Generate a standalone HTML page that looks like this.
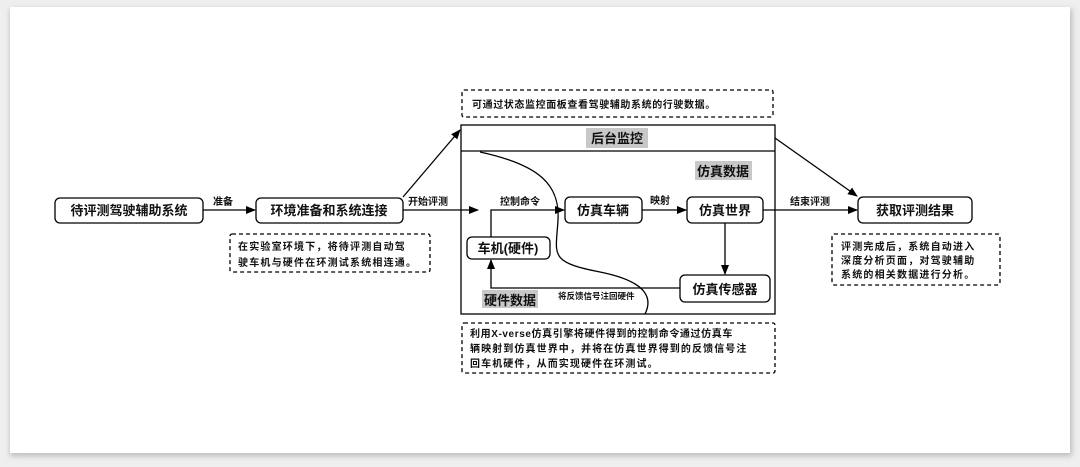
<!DOCTYPE html>
<html><head><meta charset="utf-8"><style>
html,body{margin:0;padding:0;width:1080px;height:467px;background:#efefef;overflow:hidden}
svg{position:absolute;left:0;top:0}
text{font-family:"Liberation Sans","Noto Sans CJK SC",sans-serif;font-weight:bold;fill:#111}
</style></head><body>
<svg width="1080" height="467" viewBox="0 0 1080 467">
<defs>
<filter id="sh" x="-5%" y="-5%" width="110%" height="115%"><feGaussianBlur stdDeviation="3"/></filter>
<marker id="a" markerWidth="10" markerHeight="8" refX="9" refY="4" orient="auto" markerUnits="userSpaceOnUse"><path d="M0,0L10,4L0,8z" fill="#000"/></marker>
</defs>
<rect x="10" y="9" width="1062" height="447" fill="#bbb" filter="url(#sh)"/>
<rect x="10" y="7" width="1060" height="446" fill="#fff"/>
<g fill="none" stroke="#000" stroke-width="1.3">
<rect x="55" y="198" width="148" height="25" rx="5" fill="#fff"/>
<rect x="256" y="198" width="147" height="25" rx="5" fill="#fff"/>
<rect x="858" y="197" width="114" height="26" rx="5" fill="#fff"/>
<rect x="461" y="125" width="314" height="189"/>
<line x1="461" y1="151" x2="775" y2="151"/>
<rect x="565" y="197" width="77" height="26" rx="5" fill="#fff"/>
<rect x="687" y="197" width="76" height="26" rx="5" fill="#fff"/>
<rect x="467" y="237" width="83" height="22" rx="5" fill="#fff"/>
<rect x="680" y="275" width="90" height="27" rx="5" fill="#fff"/>
<g stroke-dasharray="4,3">
<rect x="462" y="90" width="311" height="27" rx="2"/>
<rect x="230" y="234" width="200" height="38" rx="2"/>
<rect x="832" y="234" width="168" height="51" rx="2"/>
<rect x="462" y="323" width="313" height="50" rx="2"/>
</g>
<line x1="203" y1="210" x2="255" y2="210" marker-end="url(#a)"/>
<line x1="403" y1="210" x2="478" y2="210" marker-end="url(#a)"/>
<line x1="403" y1="197" x2="460" y2="130" marker-end="url(#a)"/>
<line x1="763" y1="210" x2="857" y2="210" marker-end="url(#a)"/>
<line x1="775" y1="138" x2="857" y2="196" marker-end="url(#a)"/>
<polyline points="491,237 491,210 564,210" marker-end="url(#a)"/>
<line x1="642" y1="210" x2="686" y2="210" marker-end="url(#a)"/>
<line x1="725" y1="223" x2="725" y2="274" marker-end="url(#a)"/>
<polyline points="680,288 491,288 491,260" marker-end="url(#a)"/>
<path d="M480,152 C540,165 560,185 558,220 C556,255 548,262 600,272 C650,282 652,300 645,314"/>
</g>
<rect x="586" y="128" width="62" height="20" fill="#c8c8c8"/>
<rect x="695" y="161" width="57" height="19" fill="#c8c8c8"/>
<rect x="482" y="290" width="56" height="18" fill="#c8c8c8"/>
<g font-size="13" text-anchor="middle">
<text x="129" y="215">待评测驾驶辅助系统</text>
<text x="329" y="215">环境准备和系统连接</text>
<text x="915" y="215">获取评测结果</text>
<text x="617" y="143">后台监控</text>
<text x="723" y="176">仿真数据</text>
<text x="510" y="305">硬件数据</text>
<text x="603" y="215">仿真车辆</text>
<text x="725" y="215">仿真世界</text>
<text x="508" y="253">车机(硬件)</text>
<text x="725" y="294">仿真传感器</text>
</g>
<g font-size="10">
<text x="213" y="205">准备</text>
<text x="408" y="205">开始评测</text>
<text x="500" y="205">控制命令</text>
<text x="650" y="204">映射</text>
<text x="790" y="205">结束评测</text>
<text x="558" y="299" font-size="8.5">将反馈信号注回硬件</text>
<text x="472" y="108" letter-spacing="0.6">可通过状态监控面板查看驾驶辅助系统的行驶数据。</text>
<text x="238" y="250" letter-spacing="1.2">在实验室环境下，将待评测自动驾</text>
<text x="238" y="266" letter-spacing="1.2">驶车机与硬件在环测试系统相连通。</text>
<text x="841" y="250" letter-spacing="1.2">评测完成后，系统自动进入</text>
<text x="841" y="264" letter-spacing="1.2">深度分析页面，对驾驶辅助</text>
<text x="841" y="278" letter-spacing="1.2">系统的相关数据进行分析。</text>
<text x="470" y="337" letter-spacing="0.6">利用X-verse仿真引擎将硬件得到的控制命令通过仿真车</text>
<text x="470" y="352" letter-spacing="1.1">辆映射到仿真世界中，并将在仿真世界得到的反馈信号注</text>
<text x="470" y="367" letter-spacing="1.1">回车机硬件，从而实现硬件在环测试。</text>
</g>
</svg>
</body></html>
